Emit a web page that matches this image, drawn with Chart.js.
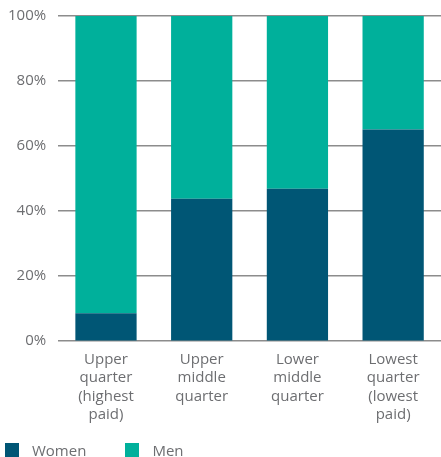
<!DOCTYPE html>
<html lang="en">
<head>
  <meta charset="UTF-8" />
  <title>Pay quarters by gender</title>
  <script src="https://cdn.jsdelivr.net/npm/chart.js"></script>
  <style>
    body { margin: 0; background: #fff; font-family: 'Open Sans', sans-serif; }
    #wrap { width: 441px; height: 457px; position: relative; overflow: hidden; }
    #legend { position: absolute; left: 5px; top: 441px; display: flex; font-size: 15px; color: #6d6e71; line-height: 18px; }
    .item { display: flex; align-items: center; }
    .item + .item { margin-left: 39px; }
    .box { width: 14px; height: 14px; margin-right: 13px; }
  </style>
</head>
<body>
  <div id="wrap">
    <canvas id="quartersChart"></canvas>
    <div id="legend"></div>
  </div>
<script>
  const quarters = [
    ['Upper', 'quarter', '(highest', 'paid)'],
    ['Upper', 'middle', 'quarter'],
    ['Lower', 'middle', 'quarter'],
    ['Lowest', 'quarter', '(lowest', 'paid)']
  ];
  const women = [8.6, 43.8, 46.9, 65.1];
  const men = [91.4, 56.2, 53.1, 34.9];
  const yTicks = [0, 20, 40, 60, 80, 100];

  const TEXT = '#6d6e71';
  Chart.defaults.font.family = "'Open Sans', sans-serif";
  Chart.defaults.color = TEXT;

  const chart = new Chart(document.getElementById('quartersChart'), {
    type: 'bar',
    data: {
      labels: quarters,
      datasets: [
        { label: 'Women', data: women, backgroundColor: '#005675', barPercentage: 0.64, categoryPercentage: 1 },
        { label: 'Men', data: men, backgroundColor: '#00b09b', barPercentage: 0.64, categoryPercentage: 1 }
      ]
    },
    options: {
      responsive: true,
      maintainAspectRatio: false,
      animation: false,
      layout: { padding: { top: 16, right: 0, left: -4, bottom: 24 } },
      plugins: {
        tooltip: { enabled: false },
        legend: { display: false }
      },
      scales: {
        x: {
          stacked: true,
          grid: { display: false, drawTicks: false },
          border: { display: false },
          ticks: { font: { size: 15, lineHeight: 1.23 }, padding: 9, maxRotation: 0, autoSkip: false }
        },
        y: {
          stacked: true,
          min: 0,
          max: 100,
          afterBuildTicks: axis => { axis.ticks = yTicks.map(v => ({ value: v })); },
          afterFit: axis => { axis.paddingTop = 0; },
          grid: { color: '#8c8c8c', lineWidth: 1.5, drawTicks: false },
          border: { display: false },
          ticks: { font: { size: 15 }, padding: 12, callback: v => v + '%' }
        }
      }
    }
  });

  // legend built from the datasets
  const legend = document.getElementById('legend');
  chart.data.datasets.forEach(ds => {
    const item = document.createElement('div');
    item.className = 'item';
    item.innerHTML = `<span class="box" style="background:${ds.backgroundColor}"></span><span>${ds.label}</span>`;
    legend.appendChild(item);
  });
</script>
</body>
</html>
